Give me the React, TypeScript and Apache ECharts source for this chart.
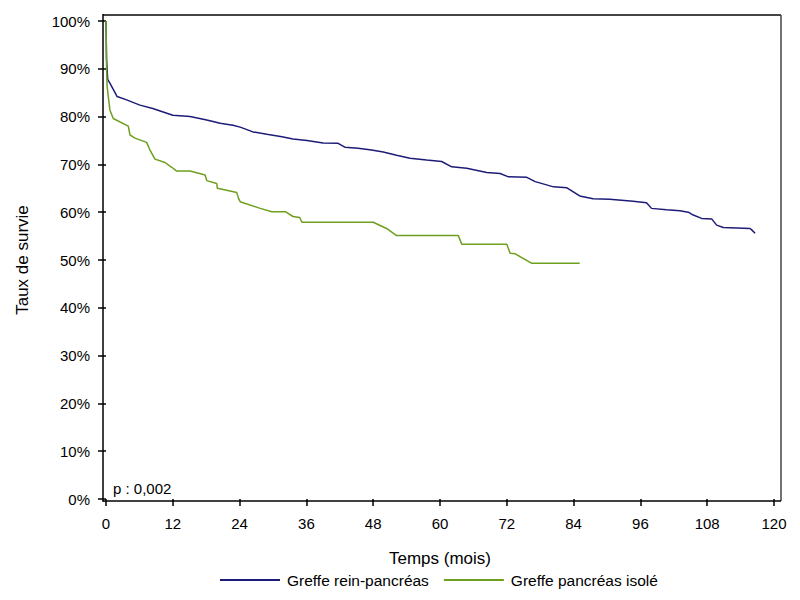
import React, { useEffect, useRef } from "react";
import * as echarts from "echarts";

const xTicks = [0, 12, 24, 36, 48, 60, 72, 84, 96, 108, 120];

const reinPancreasMonths = [0, 0.1, 0.3, 0.7, 2.0, 3.7, 6.1, 8.4, 12.0, 15.1, 18.1, 20.5, 22.8, 24.1, 26.4, 28.9, 31.6, 33.6, 36.1, 39.0, 41.7, 42.9, 45.3, 47.7, 49.8, 52.2, 54.6, 57.6, 60.3, 62.1, 64.8, 68.4, 70.8, 72.3, 75.6, 77.1, 80.4, 82.8, 85.1, 87.5, 90.5, 94.7, 97.1, 98.0, 100.7, 103.1, 104.6, 105.5, 107.0, 108.8, 109.7, 110.9, 115.7, 116.0, 116.6];
const reinPancreasSurvival = [100, 92, 87.8, 87, 84.2, 83.5, 82.4, 81.7, 80.3, 80, 79.3, 78.6, 78.2, 77.8, 76.8, 76.3, 75.8, 75.3, 75.0, 74.5, 74.4, 73.6, 73.4, 73.0, 72.6, 71.9, 71.3, 70.9, 70.6, 69.5, 69.2, 68.3, 68.1, 67.4, 67.3, 66.4, 65.3, 65.1, 63.4, 62.8, 62.7, 62.3, 62.0, 60.8, 60.5, 60.3, 60.0, 59.4, 58.7, 58.6, 57.3, 56.8, 56.6, 56.3, 55.6];

const pancreasIsoleMonths = [0, 0.1, 0.2, 0.7, 1.3, 4.0, 4.3, 5.2, 7.3, 7.9, 8.8, 10.6, 11.8, 12.7, 15.1, 17.8, 18.1, 19.9, 20.0, 23.5, 23.8, 24.1, 27.7, 29.8, 32.2, 33.6, 34.8, 35.2, 48.0, 50.4, 52.2, 63.3, 63.9, 72.0, 72.6, 73.5, 76.5, 85.1];
const pancreasIsoleSurvival = [100, 90.4, 86.3, 81.4, 79.6, 78.0, 76.2, 75.5, 74.6, 73.0, 71.1, 70.4, 69.4, 68.6, 68.6, 67.8, 66.6, 66.0, 65.0, 64.1, 62.9, 62.2, 60.8, 60.1, 60.1, 59.1, 58.9, 57.9, 57.9, 56.6, 55.1, 55.1, 53.3, 53.3, 51.4, 51.3, 49.3, 49.3];

const seriesNames = ["Greffe rein-pancréas", "Greffe pancréas isolé"];
const pValueText = "p : 0,002";

const FONT = "Liberation Sans, Arial, sans-serif";

function zip(xs: number[], ys: number[]) {
  return xs.map((x, i) => [x, ys[i]]);
}

export default function App() {
  const ref = useRef<HTMLDivElement>(null);
  useEffect(() => {
    if (!ref.current) return;
    const chart = echarts.init(ref.current, undefined, { renderer: "svg" });
    chart.setOption({
      animation: false,
      backgroundColor: "#ffffff",
      textStyle: { fontFamily: FONT },
      grid: { left: 106, top: 21, width: 668, height: 478 },
      xAxis: {
        type: "value",
        min: 0,
        max: 120,
        interval: 12,
        offset: 2,
        name: "Temps (mois)",
        nameLocation: "middle",
        nameGap: 49,
        nameTextStyle: { fontSize: 17, color: "#000", fontFamily: FONT },
        axisLine: { show: false },
        axisTick: { show: true, length: 7, lineStyle: { color: "#000", width: 1.5 } },
        axisLabel: { fontSize: 15, color: "#000", margin: 15, fontFamily: FONT, customValues: xTicks },
        splitLine: { show: false },
      },
      yAxis: {
        type: "value",
        min: 0,
        max: 100,
        interval: 10,
        offset: 3,
        name: "Taux de survie",
        nameLocation: "middle",
        nameGap: 72,
        nameTextStyle: { fontSize: 17, color: "#000", fontFamily: FONT },
        axisLine: { show: false },
        axisTick: { show: true, length: 8, lineStyle: { color: "#000", width: 1.5 } },
        axisLabel: { fontSize: 15, color: "#000", margin: 13, formatter: "{value}%", fontFamily: FONT },
        splitLine: { show: false },
      },
      legend: {
        left: 220,
        top: 572,
        padding: 0,
        itemWidth: 60,
        itemHeight: 2,
        itemGap: 15,
        icon: "rect",
        textStyle: { fontSize: 15.5, color: "#000", fontFamily: FONT, padding: [0, 0, 0, 2] },
        data: seriesNames,
      },
      graphic: [
        { type: "line", shape: { x1: 103, y1: 15, x2: 781, y2: 15 }, style: { stroke: "#444", lineWidth: 2 } },
        { type: "line", shape: { x1: 781, y1: 15, x2: 781, y2: 501 }, style: { stroke: "#444", lineWidth: 1.5 } },
        { type: "line", shape: { x1: 103, y1: 14, x2: 103, y2: 501.5 }, style: { stroke: "#000", lineWidth: 1.5 } },
        { type: "line", shape: { x1: 102.5, y1: 501, x2: 781, y2: 501 }, style: { stroke: "#000", lineWidth: 1.5 } },
        { type: "text", x: 113, y: 488, style: { text: pValueText, fontSize: 15, fill: "#000", fontFamily: FONT, verticalAlign: "middle" } },
      ],
      series: [
        {
          name: seriesNames[0],
          type: "line",
          data: zip(reinPancreasMonths, reinPancreasSurvival),
          showSymbol: false,
          symbol: "none",
          lineStyle: { color: "#1c1c78", width: 1.5 },
          itemStyle: { color: "#1c1c78" },
          z: 2,
        },
        {
          name: seriesNames[1],
          type: "line",
          data: zip(pancreasIsoleMonths, pancreasIsoleSurvival),
          showSymbol: false,
          symbol: "none",
          lineStyle: { color: "#6e9f1e", width: 1.5 },
          itemStyle: { color: "#6e9f1e" },
          z: 3,
        },
      ],
    });
    return () => chart.dispose();
  }, []);
  return <div ref={ref} style={{ position: "fixed", left: 0, top: 0, width: 800, height: 600 }} />;
}
